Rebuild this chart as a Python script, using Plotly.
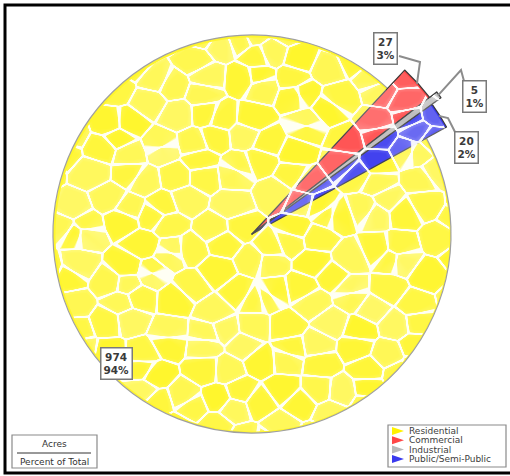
import base64
import struct
import zlib

import numpy as np
import plotly.graph_objects as go

# ---- data -----------------------------------------------------------------
categories = ["Residential", "Commercial", "Industrial", "Public/Semi-Public"]
acres = [974, 27, 5, 20]
percent_labels = ["94%", "3%", "1%", "2%"]

# ---- styling --------------------------------------------------------------
colors = ["#FFF62C", "#FF4646", "#B9B9B9", "#3A3AEE"]
edge_colors = ["#A0A0A0", "#3A3A3A", "#3A3A3A", "#3A3A3A"]
W, H = 510, 476
CX, CY = 252, 234              # pie centre (px)
RADII = [199, 224, 233, 222]   # each slice drawn at its own radius (exploded look)
ROTATION = 61.2
TRANSPARENT = "rgba(0,0,0,0)"
FONT = "DejaVu Sans"

total = float(sum(acres))
spans = np.array([360.0 * v / total for v in acres])
starts = ROTATION + np.cumsum(spans) - spans


def px_to_paper(x, y):
    return x / W, 1.0 - y / H


def polar_px(angle_deg, r):
    a = np.radians(angle_deg)
    return CX + r * np.sin(a), CY - r * np.cos(a)


fig = go.Figure()

# one pie trace per radius; slices drawn at another radius are left transparent
for rad in sorted(set(RADII)):
    own = [r == rad for r in RADII]
    x0, y1 = px_to_paper(CX - rad, CY - rad)
    x1, y0 = px_to_paper(CX + rad, CY + rad)
    fig.add_trace(go.Pie(
        labels=categories,
        values=acres,
        sort=False,
        direction="clockwise",
        rotation=ROTATION,
        domain=dict(x=[x0, x1], y=[max(y0, 0), min(y1, 1)]),
        marker=dict(
            colors=[c if o else TRANSPARENT for c, o in zip(colors, own)],
            line=dict(color=[c if o else TRANSPARENT for c, o in zip(edge_colors, own)],
                      width=[1.2 if o else 0 for o in own]),
        ),
        textinfo="none",
        hoverinfo="label+value+percent",
        showlegend=False,
    ))


# ---- flagstone texture laid over the slices -------------------------------
def stone_overlay():
    yy, xx = np.mgrid[0:H, 0:W].astype(float)
    sx, sy = 33.0, 21.0
    nx = int(W / sx) + 5
    ny = int(H / sy) + 4
    rng = np.random.default_rng(11)
    jit = rng.uniform(-0.44, 0.44, size=(ny, nx, 2))
    tone = rng.uniform(0.0, 0.28, size=(ny, nx)).ravel()
    gi = np.arange(nx) - 2
    gj = np.arange(ny) - 1
    seed_x = (gi[None, :] + 0.5 + 0.5 * (gj[:, None] % 2) + jit[..., 0]) * sx
    seed_y = (gj[:, None] + 0.5 + jit[..., 1]) * sy
    ci = np.floor(xx / sx).astype(int) + 2
    cj = np.floor(yy / sy).astype(int) + 1
    dists, ids = [], []
    for dj in (-2, -1, 0, 1, 2):
        for di in (-2, -1, 0, 1, 2):
            j = np.clip(cj + dj, 0, ny - 1)
            i = np.clip(ci + di, 0, nx - 1)
            # slightly squashed metric gives flatter, brick-like stones
            dx = xx - seed_x[j, i]
            dy = (yy - seed_y[j, i]) * 1.15
            dists.append(np.hypot(dx, dy))
            ids.append(j * nx + i)
    D = np.stack(dists)
    I = np.stack(ids)
    order = np.argsort(D, axis=0)
    d1 = np.take_along_axis(D, order[:1], 0)[0]
    d2 = np.take_along_axis(D, order[1:2], 0)[0]
    cell = np.take_along_axis(I, order[:1], 0)[0]

    gap = d2 - d1
    crack = np.clip((3.0 - gap) / 1.3, 0.0, 1.0)
    # soft lighter rim inside each stone (watercolour edge)
    rim = np.clip((9.0 - gap) / 9.0, 0.0, 1.0) * 0.15
    alpha = np.maximum(crack * 0.95, tone[cell] + rim)

    # restrict to the area covered by the slices
    rr = np.hypot(xx - CX, yy - CY)
    theta = np.degrees(np.arctan2(xx - CX, -(yy - CY))) % 360.0
    mask = np.zeros_like(rr)
    for k in range(len(acres)):
        inside_angle = ((theta - starts[k]) % 360.0) < spans[k]
        radial = np.clip(RADII[k] - 1.5 - rr, 0.0, 1.0)
        mask = np.maximum(mask, radial * inside_angle)
    alpha = np.clip(alpha, 0, 1) * mask

    rgba = np.zeros((H, W, 4), dtype=np.uint8)
    rgba[..., :3] = 255
    rgba[..., 3] = np.round(alpha * 255).astype(np.uint8)
    return rgba


def png_data_uri(rgba):
    h, w, _ = rgba.shape
    raw = b"".join(b"\x00" + rgba[y].tobytes() for y in range(h))

    def chunk(tag, data):
        body = tag + data
        return struct.pack(">I", len(data)) + body + struct.pack(">I", zlib.crc32(body) & 0xFFFFFFFF)

    png = (b"\x89PNG\r\n\x1a\n"
           + chunk(b"IHDR", struct.pack(">IIBBBBB", w, h, 8, 6, 0, 0, 0))
           + chunk(b"IDAT", zlib.compress(raw, 9))
           + chunk(b"IEND", b""))
    return "data:image/png;base64," + base64.b64encode(png).decode("ascii")


images = [dict(source=png_data_uri(stone_overlay()), xref="paper", yref="paper",
               x=0, y=1, sizex=1, sizey=1, sizing="stretch",
               xanchor="left", yanchor="top", layer="above")]

shapes = []
annotations = []

# ---- value labels with leader lines ---------------------------------------
label_boxes = {           # centre of each label box (px)
    "Residential": (116, 363),
    "Commercial": (385, 49),
    "Industrial": (474, 97),
    "Public/Semi-Public": (466, 147),
}
leader_bends = {          # elbow and box anchor of each leader line (px)
    "Commercial": [(420, 62), (399, 56)],
    "Industrial": [(461, 70), (464, 81)],
    "Public/Semi-Public": [(448, 118), (455, 132)],
}

for k, name in enumerate(categories):
    if name in leader_bends:
        mid = starts[k] + spans[k] / 2.0
        tip = polar_px(mid, RADII[k] - 1)
        pts = [tip] + leader_bends[name]
        path = "M " + " L ".join(
            "{:.4f},{:.4f}".format(*px_to_paper(x, y)) for x, y in pts)
        shapes.append(dict(type="path", path=path, xref="paper", yref="paper",
                           line=dict(color="#8C8C8C", width=2), layer="above"))
    bx, by = px_to_paper(*label_boxes[name])
    annotations.append(dict(
        x=bx, y=by, xref="paper", yref="paper", showarrow=False,
        xanchor="center", yanchor="middle",
        text="<b>{}</b><br><b>{}</b>".format(acres[k], percent_labels[k]),
        font=dict(family=FONT, size=10.5, color="#3A3A3A"),
        bgcolor="white", bordercolor="#7A7A7A", borderwidth=1.5, borderpad=2,
        align="center",
    ))

# ---- legend (bottom right) -------------------------------------------------
leg_x0, leg_y0, leg_x1, leg_y1 = 388, 425, 506, 467
x0, y1 = px_to_paper(leg_x0, leg_y0)
x1, y0 = px_to_paper(leg_x1, leg_y1)
shapes.append(dict(type="rect", xref="paper", yref="paper", x0=x0, x1=x1, y0=y0, y1=y1,
                   line=dict(color="#8A8A8A", width=1.2), fillcolor="white", layer="above"))
row_h = 9.3
for k, name in enumerate(categories):
    yc = leg_y0 + 6.0 + k * row_h
    tri = [(392, yc - 4), (404, yc), (392, yc + 4)]
    path = "M " + " L ".join("{:.4f},{:.4f}".format(*px_to_paper(x, y)) for x, y in tri) + " Z"
    shapes.append(dict(type="path", path=path, xref="paper", yref="paper",
                       fillcolor=colors[k] if k != 0 else "#FFF200",
                       line=dict(width=0), layer="above"))
    tx, ty = px_to_paper(407, yc)
    annotations.append(dict(x=tx, y=ty, xref="paper", yref="paper", showarrow=False,
                            xanchor="left", yanchor="middle", text=name,
                            font=dict(family=FONT, size=9, color="#404040")))

# ---- units key (bottom left) ------------------------------------------------
x0, y1 = px_to_paper(12, 435)
x1, y0 = px_to_paper(97, 468)
shapes.append(dict(type="rect", xref="paper", yref="paper", x0=x0, x1=x1, y0=y0, y1=y1,
                   line=dict(color="#8A8A8A", width=1.2), fillcolor="white", layer="above"))
lx0, ly = px_to_paper(17, 453)
lx1, _ = px_to_paper(91, 453)
shapes.append(dict(type="line", xref="paper", yref="paper", x0=lx0, x1=lx1, y0=ly, y1=ly,
                   line=dict(color="#333333", width=1), layer="above"))
for txt, ypx in (("Acres", 444), ("Percent of Total", 462)):
    ax_, ay_ = px_to_paper(54.5, ypx)
    annotations.append(dict(x=ax_, y=ay_, xref="paper", yref="paper", showarrow=False,
                            xanchor="center", yanchor="middle",
                            text=txt, font=dict(family=FONT, size=9, color="#333333")))

# ---- outer frame -------------------------------------------------------------
fx0, fy1 = px_to_paper(5, 5)
fx1, fy0 = px_to_paper(W + 4, 473)
shapes.append(dict(type="rect", xref="paper", yref="paper", x0=fx0, x1=fx1, y0=fy0, y1=fy1,
                   line=dict(color="black", width=3), layer="above"))

fig.update_layout(
    width=W, height=H,
    margin=dict(l=0, r=0, t=0, b=0),
    paper_bgcolor="white", plot_bgcolor="white",
    shapes=shapes, annotations=annotations, images=images,
    showlegend=False,
)

fig.write_html("out.html")
